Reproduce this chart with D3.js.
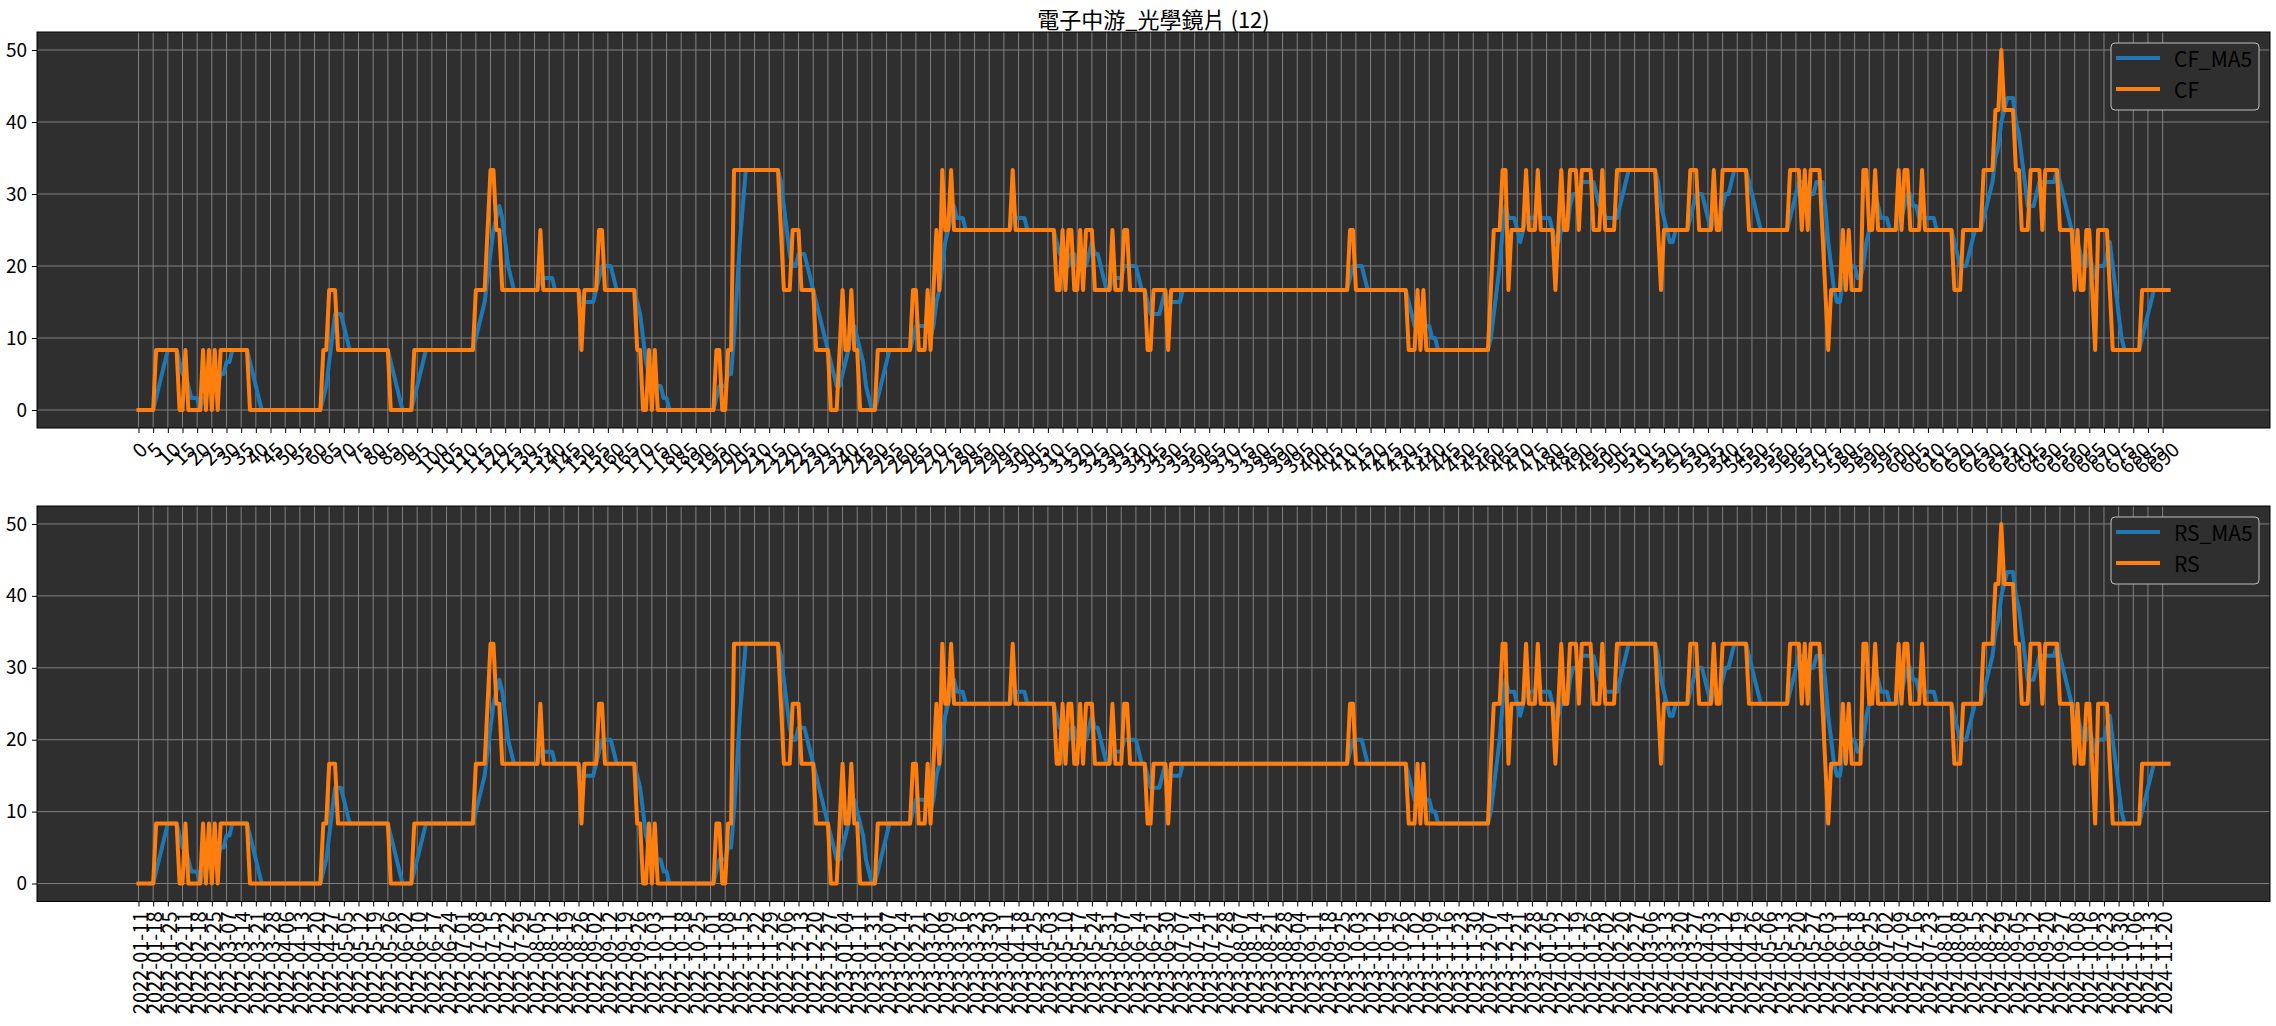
<!DOCTYPE html>
<html><head><meta charset="utf-8">
<script src="https://cdn.jsdelivr.net/npm/d3@7"></script>
<style>
body{margin:0;background:#fff;}
text{font-family:"Noto Sans CJK TC","Noto Sans",sans-serif;}
</style>
</head><body>
<svg id="c" width="2276" height="1026"></svg>
<script>
const chartTitle = "電子中游_光學鏡片 (12)";
const stockTotal = 12;   // number of stocks in the group (title "(12)")

// CF: number of the 12 stocks flagged on each trading day (value = count/12*100)
const cfCount = [
/*  0*/ 0,0,0,0,0,0,1,1,1,1,
/* 10*/ 1,1,1,1,0,0,1,0,0,0,
/* 20*/ 0,0,1,0,1,0,1,0,1,1,
/* 30*/ 1,1,1,1,1,1,1,1,0,0,
/* 40*/ 0,0,0,0,0,0,0,0,0,0,
/* 50*/ 0,0,0,0,0,0,0,0,0,0,
/* 60*/ 0,0,0,1,1,2,2,2,1,1,
/* 70*/ 1,1,1,1,1,1,1,1,1,1,
/* 80*/ 1,1,1,1,1,1,0,0,0,0,
/* 90*/ 0,0,0,0,1,1,1,1,1,1,
/*100*/ 1,1,1,1,1,1,1,1,1,1,
/*110*/ 1,1,1,1,1,2,2,2,2,3,
/*120*/ 4,4,3,3,2,2,2,2,2,2,
/*130*/ 2,2,2,2,2,2,2,3,2,2,
/*140*/ 2,2,2,2,2,2,2,2,2,2,
/*150*/ 2,1,2,2,2,2,2,3,3,2,
/*160*/ 2,2,2,2,2,2,2,2,2,2,
/*170*/ 1,1,0,0,1,0,1,0,0,0,
/*180*/ 0,0,0,0,0,0,0,0,0,0,
/*190*/ 0,0,0,0,0,0,0,1,1,0,
/*200*/ 0,1,1,4,4,4,4,4,4,4,
/*210*/ 4,4,4,4,4,4,4,4,4,3,
/*220*/ 2,2,2,3,3,3,2,2,2,2,
/*230*/ 2,1,1,1,1,1,0,0,0,1,
/*240*/ 2,1,1,2,1,1,0,0,0,0,
/*250*/ 0,0,1,1,1,1,1,1,1,1,
/*260*/ 1,1,1,1,2,2,1,1,1,2,
/*270*/ 1,2,3,2,4,3,3,4,3,3,
/*280*/ 3,3,3,3,3,3,3,3,3,3,
/*290*/ 3,3,3,3,3,3,3,3,4,3,
/*300*/ 3,3,3,3,3,3,3,3,3,3,
/*310*/ 3,3,3,2,2,3,2,3,3,2,
/*320*/ 2,3,2,3,3,3,2,2,2,2,
/*330*/ 2,2,3,2,2,2,3,3,2,2,
/*340*/ 2,2,2,2,1,1,2,2,2,2,
/*350*/ 2,1,2,2,2,2,2,2,2,2,
/*360*/ 2,2,2,2,2,2,2,2,2,2,
/*370*/ 2,2,2,2,2,2,2,2,2,2,
/*380*/ 2,2,2,2,2,2,2,2,2,2,
/*390*/ 2,2,2,2,2,2,2,2,2,2,
/*400*/ 2,2,2,2,2,2,2,2,2,2,
/*410*/ 2,2,2,3,3,2,2,2,2,2,
/*420*/ 2,2,2,2,2,2,2,2,2,2,
/*430*/ 2,2,2,1,1,1,2,1,2,1,
/*440*/ 1,1,1,1,1,1,1,1,1,1,
/*450*/ 1,1,1,1,1,1,1,1,1,1,
/*460*/ 1,2,3,3,3,4,4,2,3,3,
/*470*/ 3,3,3,4,3,3,3,4,3,3,
/*480*/ 3,3,3,2,3,4,3,3,4,4,
/*490*/ 4,3,4,4,4,4,3,3,3,4,
/*500*/ 3,3,3,3,4,4,4,4,4,4,
/*510*/ 4,4,4,4,4,4,4,4,3,2,
/*520*/ 3,3,3,3,3,3,3,3,3,4,
/*530*/ 4,4,3,3,3,3,3,4,3,3,
/*540*/ 4,4,4,4,4,4,4,4,4,3,
/*550*/ 3,3,3,3,3,3,3,3,3,3,
/*560*/ 3,3,3,4,4,4,4,3,4,3,
/*570*/ 4,4,4,4,3,2,1,2,2,2,
/*580*/ 2,3,2,3,2,2,2,2,4,4,
/*590*/ 3,3,4,3,3,3,3,3,3,3,
/*600*/ 4,3,4,4,3,3,3,3,4,3,
/*610*/ 3,3,3,3,3,3,3,3,3,2,
/*620*/ 2,2,3,3,3,3,3,3,3,4,
/*630*/ 4,4,4,5,5,6,5,5,5,5,
/*640*/ 4,4,3,3,3,4,4,4,4,3,
/*650*/ 4,4,4,4,4,3,3,3,3,3,
/*660*/ 2,3,2,2,3,3,2,1,3,3,
/*670*/ 3,3,2,1,1,1,1,1,1,1,
/*680*/ 1,1,1,2,2,2,2,2,2,2,
/*690*/ 2,2,2
];
// RS reads identical to CF in the picture
const rsCount = cfCount.slice();

// bottom x tick labels (every 5th trading day)
const dateLabels = [
"2022-01-11","2022-01-18","2022-01-25","2022-02-11","2022-02-18","2022-02-25","2022-03-07","2022-03-14","2022-03-21","2022-03-28",
"2022-04-06","2022-04-13","2022-04-20","2022-04-27","2022-05-05","2022-05-12","2022-05-19","2022-05-26","2022-06-02","2022-06-10",
"2022-06-17","2022-06-24","2022-07-01","2022-07-08","2022-07-15","2022-07-22","2022-07-29","2022-08-05","2022-08-12","2022-08-19",
"2022-08-26","2022-09-02","2022-09-12","2022-09-19","2022-09-26","2022-10-03","2022-10-11","2022-10-18","2022-10-25","2022-11-01",
"2022-11-08","2022-11-15","2022-11-22","2022-11-29","2022-12-06","2022-12-13","2022-12-20","2022-12-27","2023-01-04","2023-01-11",
"2023-01-31","2023-02-07","2023-02-14","2023-02-21","2023-03-02","2023-03-09","2023-03-16","2023-03-23","2023-03-30","2023-04-11",
"2023-04-18","2023-04-25","2023-05-03","2023-05-10","2023-05-17","2023-05-24","2023-05-31","2023-06-07","2023-06-14","2023-06-21",
"2023-06-30","2023-07-07","2023-07-14","2023-07-21","2023-07-28","2023-08-07","2023-08-14","2023-08-21","2023-08-28","2023-09-04",
"2023-09-11","2023-09-18","2023-09-25","2023-10-03","2023-10-12","2023-10-19","2023-10-26","2023-11-02","2023-11-09","2023-11-16",
"2023-11-23","2023-11-30","2023-12-07","2023-12-14","2023-12-21","2023-12-28","2024-01-05","2024-01-12","2024-01-19","2024-01-26",
"2024-02-02","2024-02-20","2024-02-27","2024-03-06","2024-03-13","2024-03-20","2024-03-27","2024-04-03","2024-04-12","2024-04-19",
"2024-04-26","2024-05-06","2024-05-13","2024-05-20","2024-05-27","2024-06-03","2024-06-11","2024-06-18","2024-06-25","2024-07-02",
"2024-07-09","2024-07-16","2024-07-23","2024-08-01","2024-08-08","2024-08-15","2024-08-22","2024-08-29","2024-09-05","2024-09-12",
"2024-09-20","2024-09-27","2024-10-08","2024-10-16","2024-10-23","2024-10-30","2024-11-06","2024-11-13","2024-11-20"
];
const xTickValues = d3.range(0, 691, 5);          // 0,5,...,690
const yTickValues = [0, 10, 20, 30, 40, 50];

// ---- derived series ----
const toPct = c => c * 100 / stockTotal;
const cf = cfCount.map(toPct);
const rs = rsCount.map(toPct);
// 5-day moving average of the plotted series (the chart's *_MA5 lines)
function ma5(arr){ return arr.map((v,i)=> i < 4 ? null : d3.mean(arr.slice(i-4, i+1))); }
const cfMA5 = ma5(cf), rsMA5 = ma5(rs);

// ---- layout ----
const svg = d3.select("#c");
const L = 37, R = 2270;
const n = cf.length;
const marg = (n - 1) * 0.05;
const x = d3.scaleLinear().domain([-marg, n - 1 + marg]).range([L, R]);
const BG = "#2f2f2f", GRID = "#808080";
const BLUE = "#1f77b4", ORANGE = "#ff7f0e";

svg.append("rect").attr("width", 2276).attr("height", 1026).attr("fill", "#fff");
svg.append("text").attr("x", (L + R) / 2).attr("y", 28).attr("text-anchor", "middle")
  .attr("font-size", 22).attr("fill", "#000").text(chartTitle);

const panels = [
  {top: 32, bottom: 428, labels: xTickValues.map(String), rot: 45,
   series: [{name: "CF_MA5", values: cfMA5, color: BLUE}, {name: "CF", values: cf, color: ORANGE}]},
  {top: 506, bottom: 901.5, labels: dateLabels, rot: 90,
   series: [{name: "RS_MA5", values: rsMA5, color: BLUE}, {name: "RS", values: rs, color: ORANGE}]}
];

panels.forEach((p, pi) => {
  const y = d3.scaleLinear().domain([-2.5, 52.5]).range([p.bottom, p.top]);
  const g = svg.append("g");
  g.append("rect").attr("x", L).attr("y", p.top).attr("width", R - L).attr("height", p.bottom - p.top).attr("fill", BG);

  // grid
  g.append("g").selectAll("line").data(xTickValues).join("line")
    .attr("x1", d => x(d)).attr("x2", d => x(d)).attr("y1", p.top).attr("y2", p.bottom)
    .attr("stroke", GRID).attr("stroke-width", 1);
  g.append("g").selectAll("line").data(yTickValues).join("line")
    .attr("x1", L).attr("x2", R).attr("y1", d => y(d)).attr("y2", d => y(d))
    .attr("stroke", GRID).attr("stroke-width", 1);

  // lines
  const clipId = "clip" + pi;
  svg.append("clipPath").attr("id", clipId).append("rect")
    .attr("x", L).attr("y", p.top).attr("width", R - L).attr("height", p.bottom - p.top);
  const line = d3.line().defined(d => d != null).x((d, i) => x(i)).y(d => y(d));
  const lg = g.append("g").attr("clip-path", `url(#${clipId})`);
  p.series.forEach(s => {
    lg.append("path").datum(s.values).attr("d", line).attr("fill", "none")
      .attr("stroke", s.color).attr("stroke-width", 4)
      .attr("stroke-linejoin", "round").attr("stroke-linecap", "square");
  });

  // frame
  g.append("rect").attr("x", L).attr("y", p.top).attr("width", R - L).attr("height", p.bottom - p.top)
    .attr("fill", "none").attr("stroke", "#000").attr("stroke-width", 1);

  // y axis
  const ya = g.append("g").attr("transform", `translate(${L},0)`)
    .call(d3.axisLeft(y).tickValues(yTickValues).tickSize(5).tickPadding(5).tickFormat(d3.format("d")));
  ya.select(".domain").remove();
  ya.selectAll("text").attr("font-size", 19).attr("font-family", '"Noto Sans CJK TC","Noto Sans",sans-serif').attr("fill", "#000");

  // x axis
  const xa = g.append("g").attr("transform", `translate(0,${p.bottom})`)
    .call(d3.axisBottom(x).tickValues(xTickValues).tickSize(5).tickFormat((d, i) => p.labels[i]));
  xa.select(".domain").remove();
  const pad = 10;
  xa.selectAll("text").each(function(){
    const t = d3.select(this);
    t.attr("font-size", 20).attr("font-family", '"Noto Sans CJK TC","Noto Sans",sans-serif').attr("fill", "#000")
     .attr("y", 0).attr("dy", null).attr("dominant-baseline", "central");
    if (p.rot === 45) {
      const w = this.getComputedTextLength();
      const h = 20;
      const off = pad + (w + h) * Math.SQRT1_2 / 2;
      t.attr("text-anchor", "middle").attr("transform", `translate(0,${off}) rotate(-45)`);
    } else {
      t.attr("text-anchor", "end").attr("transform", `translate(0,${pad}) rotate(-90)`);
    }
  });

  // legend
  const lgX = R - 11 - 148, lgY = p.top + 11;
  const leg = g.append("g").attr("transform", `translate(${lgX},${lgY})`);
  leg.append("rect").attr("width", 148).attr("height", 67).attr("rx", 4)
    .attr("fill", BG).attr("stroke", "#c0c0c0").attr("stroke-width", 1);
  p.series.forEach((s, i) => {
    const yy = 15 + i * 31;
    leg.append("line").attr("x1", 5).attr("x2", 49).attr("y1", yy).attr("y2", yy)
      .attr("stroke", s.color).attr("stroke-width", 4);
    leg.append("text").attr("x", 63).attr("y", yy).attr("dominant-baseline", "central")
      .attr("font-size", 21).attr("fill", "#000").text(s.name);
  });
});
</script>
</body></html>
